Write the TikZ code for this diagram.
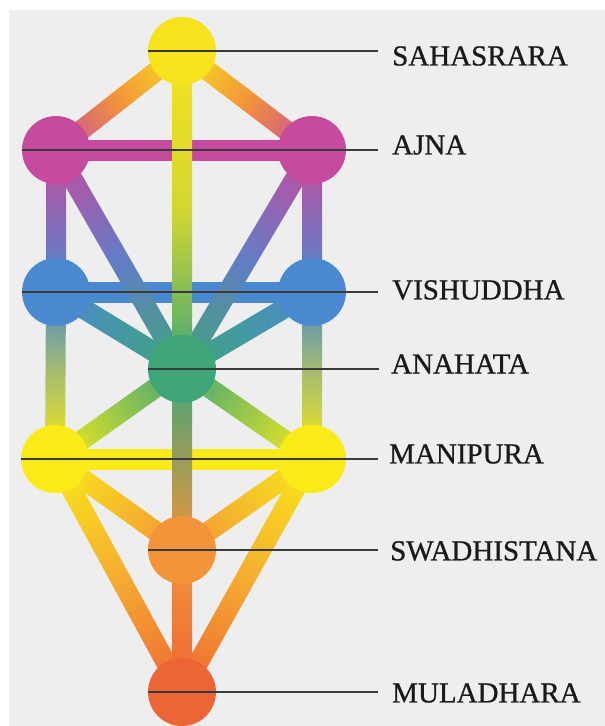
\documentclass[tikz,border=0pt]{standalone}
\usepackage{fontspec}
\setmainfont{Liberation Serif}
\newfontfamily\lblfont[FakeBold=0.8]{Liberation Serif}
\usetikzlibrary{calc}
\definecolor{bgc}{HTML}{EEEEEE}
\definecolor{yelS}{HTML}{F7E21E}
\definecolor{mag}{HTML}{C64B9E}
\definecolor{blu}{HTML}{4A89CF}
\definecolor{grn}{HTML}{3FA67A}
\definecolor{yelM}{HTML}{F9EA18}
\definecolor{org}{HTML}{F3943A}
\definecolor{red}{HTML}{EE6535}
\definecolor{linec}{HTML}{3A3A3A}
\definecolor{txt}{HTML}{1A1A1A}
\newcommand{\barhw}{10pt}
\newcommand{\chakrabar}[3]{%
  \path let \p1=($(#2.center)-(#1.center)$) in
    \pgfextra{\pgfmathsetmacro\tmpang{atan2(\y1,\x1)}\pgfmathsetmacro\tmplen{veclen(\x1,\y1)}\xdef\barang{\tmpang}\xdef\barlen{\tmplen}};
  \begin{scope}[transform canvas={shift={(#1.center)}, rotate=\barang}]
    \shade[#3] (0pt,-\barhw) rectangle (\barlen pt,\barhw);
  \end{scope}
}
\tikzset{
  chakra/.style={circle, minimum size=68pt, inner sep=0pt, draw=none},
  lbl/.style={anchor=west, inner sep=0pt, text=txt, font=\lblfont\fontsize{29}{32}\selectfont},
  pointer/.style={draw=linec, line width=1.6pt}
}
\begin{document}
\begin{tikzpicture}[x=1pt, y=-1pt]
\useasboundingbox (0,0) rectangle (605,726);
\fill[white] (0,0) rectangle (605,726);
\fill[bgc] (9,10) rectangle (605,726);

% chakra positions
\node[chakra] (sah) at (182,51) {};
\node[chakra] (ajl) at (56,150) {};
\node[chakra] (ajr) at (312,150) {};
\node[chakra] (vil) at (56,292) {};
\node[chakra] (vir) at (312,292) {};
\node[chakra] (ana) at (182,369) {};
\node[chakra] (mal) at (55,459) {};
\node[chakra] (mar) at (312,459) {};
\node[chakra] (swa) at (182,550) {};
\node[chakra] (mul) at (182,692) {};

% horizontal bars
\chakrabar{ajl}{ajr}{left color=mag, right color=mag}
\chakrabar{vil}{vir}{left color=blu, right color=blu}
\chakrabar{mal}{mar}{left color=yelM, right color=yelM}

% top triangle
\chakrabar{sah}{ajl}{left color=yelS, right color=mag, middle color=org}
\chakrabar{sah}{ajr}{left color=yelS, right color=mag, middle color=org}
% verticals
\chakrabar{ajl}{vil}{left color=mag, right color=blu, middle color=blu!50!mag}
\chakrabar{ajr}{vir}{left color=mag, right color=blu, middle color=blu!50!mag}
\chakrabar{vil}{mal}{left color=blu, right color=yelM, middle color=blu!45!yelM}
\chakrabar{vir}{mar}{left color=blu, right color=yelM, middle color=blu!45!yelM}
% diagonals to anahata
\chakrabar{ajl}{ana}{left color=mag, right color=grn, middle color=blu!80!mag}
\chakrabar{ajr}{ana}{left color=mag, right color=grn, middle color=blu!80!mag}
\chakrabar{vil}{ana}{left color=blu, right color=grn}
\chakrabar{vir}{ana}{left color=blu, right color=grn}
\chakrabar{mal}{ana}{left color=yelM, right color=grn, middle color=yelM!50!grn}
\chakrabar{mar}{ana}{left color=yelM, right color=grn, middle color=yelM!50!grn}
% lower
\chakrabar{mal}{swa}{left color=yelM, right color=org}
\chakrabar{mar}{swa}{left color=yelM, right color=org}
\chakrabar{mal}{mul}{left color=yelM, right color=red, middle color=org!70!yelM}
\chakrabar{mar}{mul}{left color=yelM, right color=red, middle color=org!70!yelM}
% central pillar
\chakrabar{sah}{ana}{left color=yelS, right color=grn, middle color=yelS!80!grn}
\chakrabar{ana}{swa}{left color=grn, right color=org}
\chakrabar{swa}{mul}{left color=org, right color=red}

% chakra discs
\fill[yelS] (sah) circle (34pt);
\fill[mag] (ajl) circle (34pt);
\fill[mag] (ajr) circle (34pt);
\fill[blu] (vil) circle (34pt);
\fill[blu] (vir) circle (34pt);
\fill[grn] (ana) circle (34pt);
\fill[yelM] (mal) circle (34pt);
\fill[yelM] (mar) circle (34pt);
\fill[org] (swa) circle (34pt);
\fill[red] (mul) circle (34pt);

% labels
\node[lbl] (lsah) at (392,56) {SAHASRARA};
\node[lbl] (laj) at (392,145) {AJNA};
\node[lbl] (lvi) at (392,290) {VISHUDDHA};
\node[lbl] (lan) at (391,364) {ANAHATA};
\node[lbl] (lma) at (389,454) {MANIPURA};
\node[lbl] (lsw) at (390,551) {SWADHISTANA};
\node[lbl] (lmu) at (392,693) {MULADHARA};

\draw[pointer] (sah.west) -- ($(sah.west -| lsah.west)+(-14pt,0)$);
\draw[pointer] (ajl.west) -- ($(ajl.west -| laj.west)+(-14pt,0)$);
\draw[pointer] (vil.west) -- ($(vil.west -| lvi.west)+(-14pt,0)$);
\draw[pointer] (ana.west) -- ($(ana.west -| lan.west)+(-12pt,0)$);
\draw[pointer] (mal.west) -- ($(mal.west -| lma.west)+(-11pt,0)$);
\draw[pointer] (swa.west) -- ($(swa.west -| lsw.west)+(-12pt,0)$);
\draw[pointer] (mul.west) -- ($(mul.west -| lmu.west)+(-14pt,0)$);
\end{tikzpicture}
\end{document}
